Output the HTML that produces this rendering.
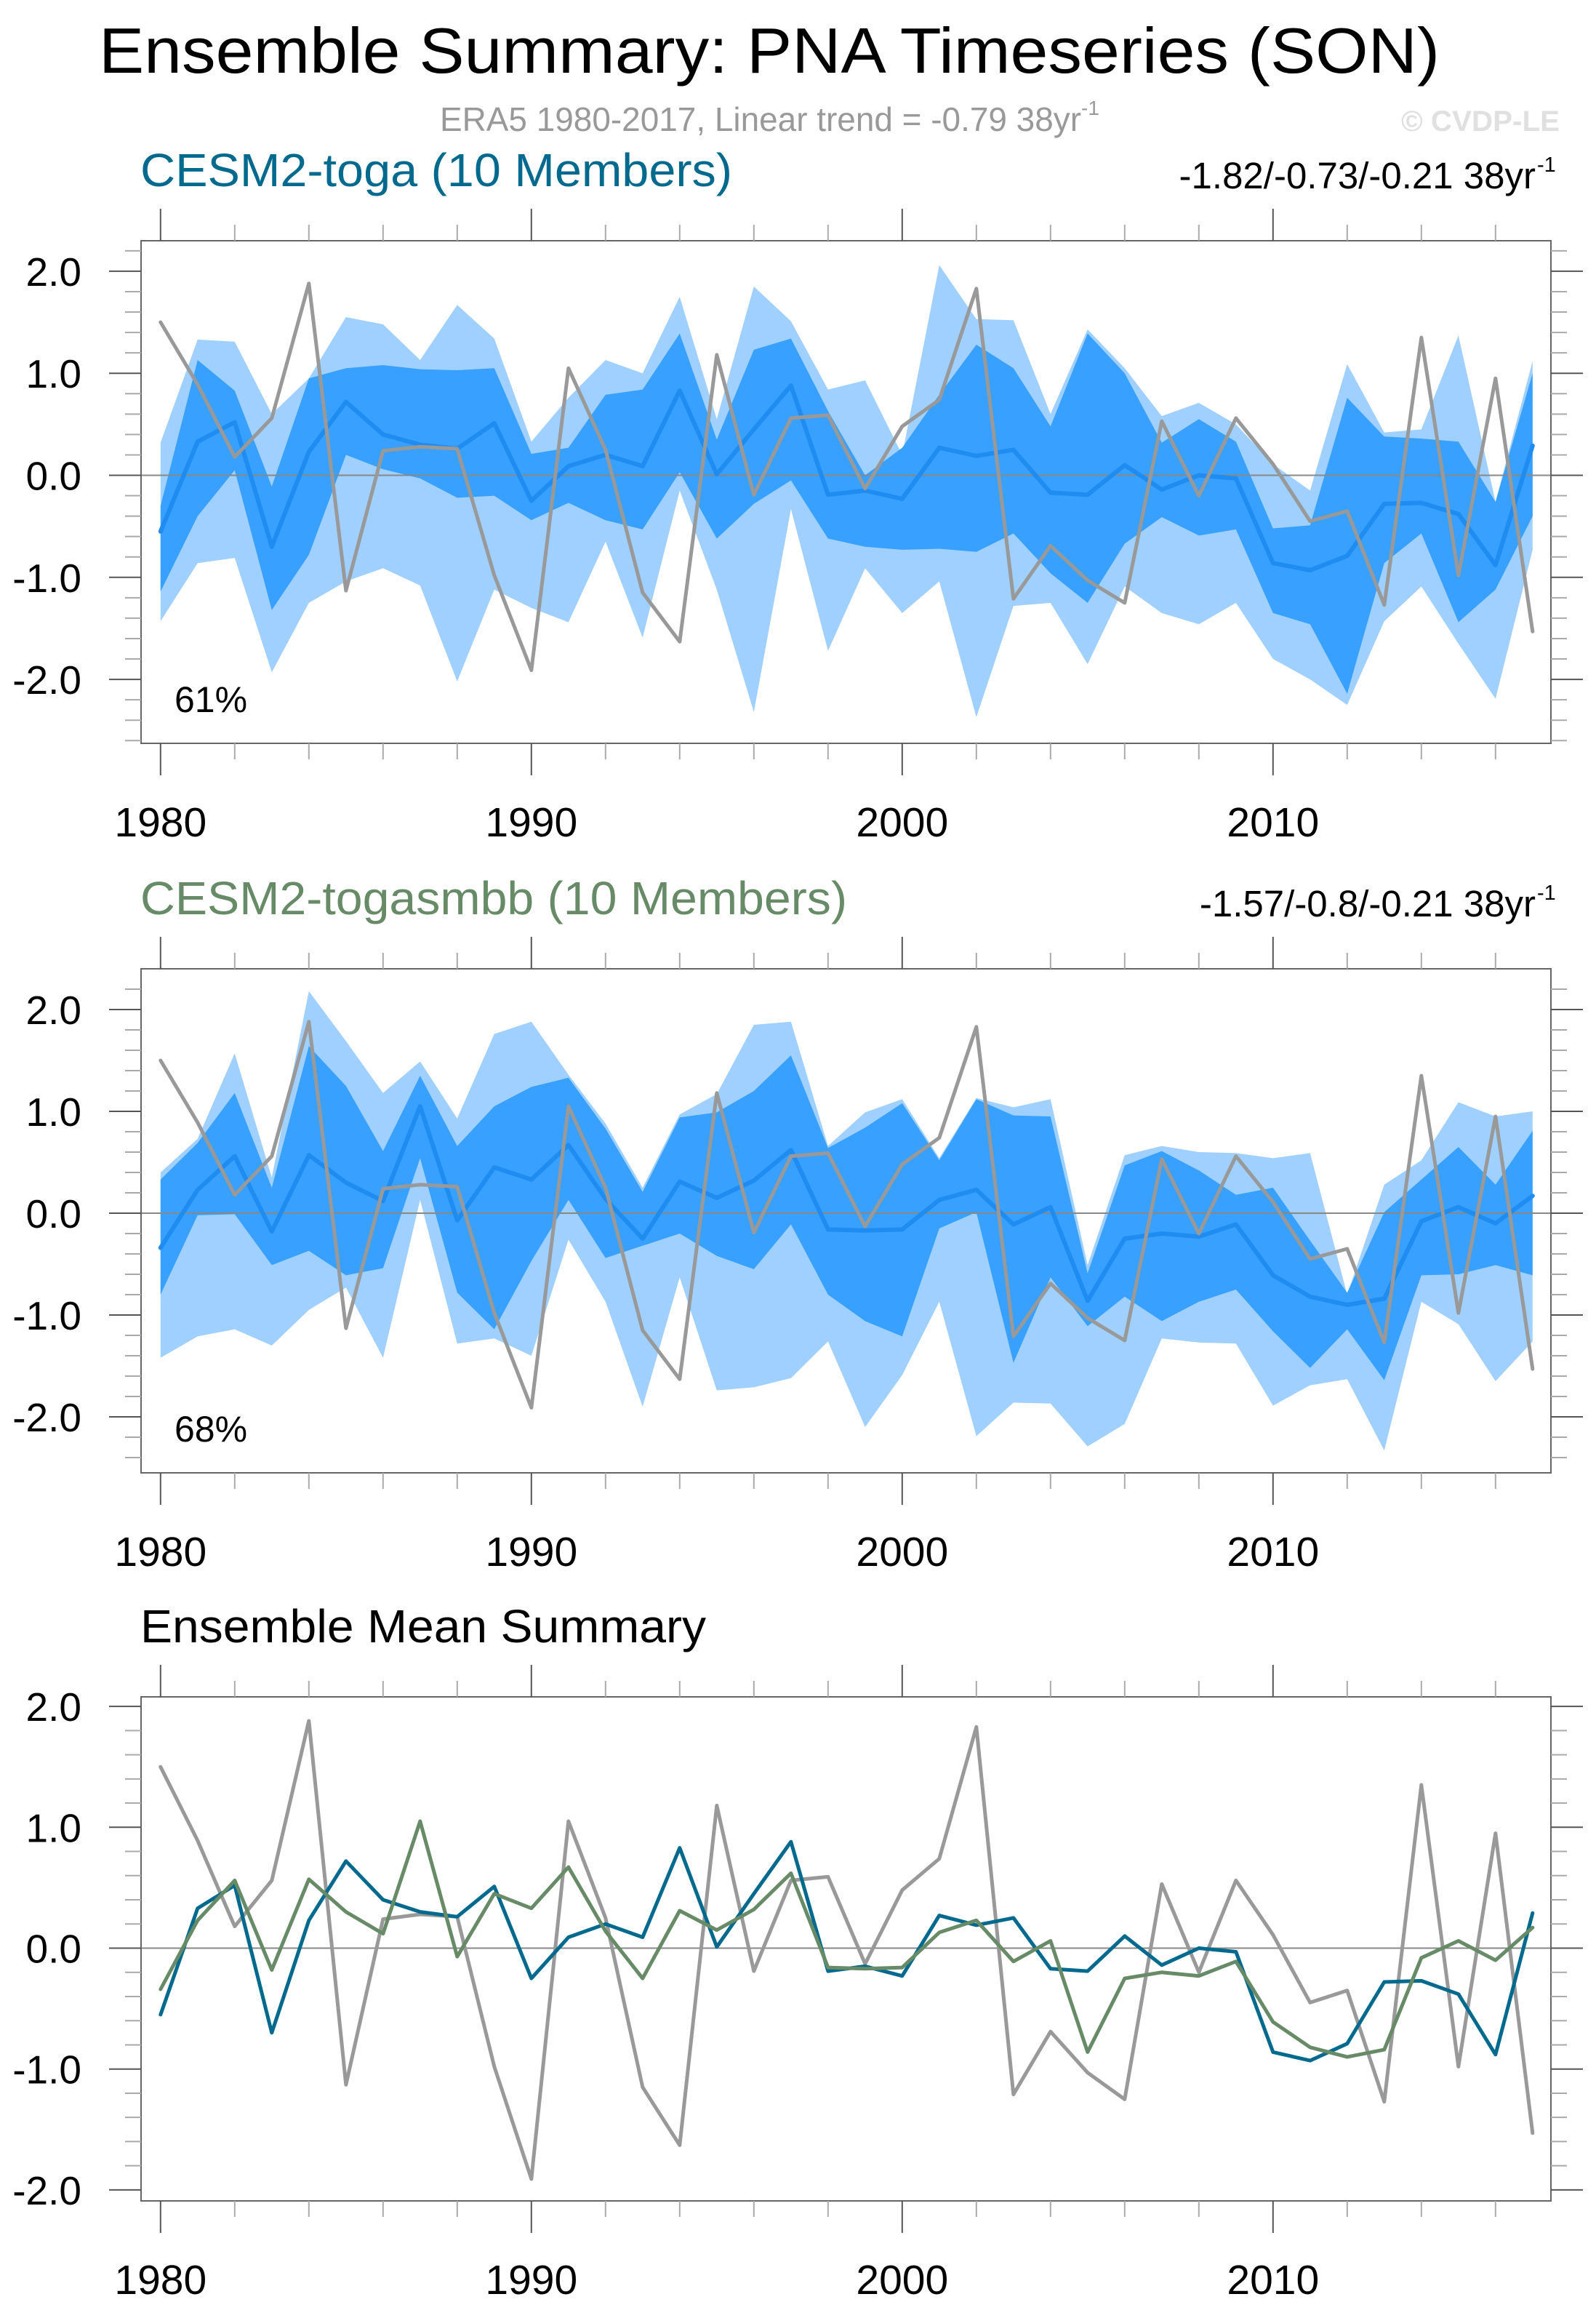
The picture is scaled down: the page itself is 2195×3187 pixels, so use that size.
<!DOCTYPE html>
<html><head><meta charset="utf-8"><title>Ensemble Summary: PNA Timeseries (SON)</title>
<style>
html,body{margin:0;padding:0;background:#fff;}
svg{display:block;font-family:"Liberation Sans",Arial,sans-serif;}
</style></head>
<body>
<svg id="chart" width="2195" height="3187" viewBox="0 0 2195 3187" xmlns="http://www.w3.org/2000/svg">
  <text x="136" y="100" font-size="88" textLength="1844" lengthAdjust="spacingAndGlyphs" fill="#000">Ensemble Summary: PNA Timeseries (SON)</text>
  <text x="605" y="180" font-size="46" fill="#999"><tspan textLength="882" lengthAdjust="spacingAndGlyphs">ERA5 1980-2017, Linear trend = -0.79 38yr</tspan><tspan font-size="28" dy="-22">-1</tspan></text>
  <text x="1927" y="180" font-size="40" font-weight="bold" fill="#e0e0e0" textLength="218" lengthAdjust="spacingAndGlyphs">© CVDP-LE</text>
  <g id="panels"></g>
</svg>
<script>
// ---- data ----
const years = [1980,1981,1982,1983,1984,1985,1986,1987,1988,1989,1990,1991,1992,1993,1994,1995,1996,1997,1998,1999,2000,2001,2002,2003,2004,2005,2006,2007,2008,2009,2010,2011,2012,2013,2014,2015,2016,2017];
const obsValues = [1.50,0.89,0.18,0.56,1.88,-1.13,0.24,0.28,0.26,-0.98,-1.91,1.05,0.25,-1.15,-1.63,1.18,-0.19,0.56,0.59,-0.13,0.48,0.74,1.83,-1.21,-0.69,-1.03,-1.25,0.53,-0.20,0.56,0.11,-0.45,-0.35,-1.27,1.35,-0.98,0.95,-1.53];
const togaMean = [-0.55,0.33,0.52,-0.70,0.23,0.72,0.40,0.30,0.26,0.51,-0.25,0.09,0.20,0.09,0.83,0.01,0.45,0.88,-0.19,-0.15,-0.23,0.27,0.19,0.25,-0.17,-0.19,0.10,-0.14,0.00,-0.03,-0.86,-0.93,-0.79,-0.28,-0.27,-0.38,-0.88,0.29];
const togaMax = [0.32,1.33,1.31,0.60,0.95,1.55,1.48,1.13,1.67,1.34,0.33,0.76,1.13,1.00,1.75,0.55,1.85,1.51,0.84,0.93,0.20,2.06,1.53,1.52,0.60,1.43,1.05,0.58,0.71,0.50,0.11,-0.15,1.09,0.42,0.45,1.37,-0.26,1.12];
const togaHi = [-0.30,1.13,0.83,-0.11,0.95,1.05,1.08,1.04,1.03,1.05,0.21,0.27,0.79,0.84,1.39,0.35,1.23,1.34,0.63,0.00,0.27,0.79,1.28,1.05,0.48,1.39,1.00,0.32,0.55,0.33,-0.52,-0.49,0.76,0.38,0.36,0.33,-0.26,1.00];
const togaLo = [-1.14,-0.40,0.05,-1.32,-0.78,0.20,0.06,-0.03,-0.22,-0.20,-0.44,-0.27,-0.44,-0.53,0.03,-0.62,-0.28,-0.05,-0.62,-0.70,-0.73,-0.72,-0.75,-0.57,-0.96,-1.25,-0.67,-0.41,-0.59,-0.53,-1.35,-1.46,-2.14,-0.86,-0.57,-1.44,-1.12,-0.40];
const togaMin = [-1.43,-0.86,-0.81,-1.93,-1.25,-1.04,-0.91,-1.08,-2.02,-1.12,-1.30,-1.44,-0.65,-1.59,-0.15,-1.12,-2.32,-0.33,-1.72,-0.91,-1.35,-1.04,-2.37,-1.28,-1.25,-1.85,-1.09,-1.35,-1.46,-1.25,-1.80,-2.00,-2.25,-1.43,-1.09,-1.65,-2.19,-0.73];
const smbbMean = [-0.34,0.23,0.56,-0.18,0.57,0.30,0.12,1.05,-0.07,0.45,0.33,0.67,0.14,-0.25,0.31,0.15,0.32,0.62,-0.16,-0.17,-0.16,0.13,0.23,-0.11,0.06,-0.86,-0.25,-0.20,-0.23,-0.11,-0.61,-0.82,-0.90,-0.84,-0.08,0.06,-0.10,0.17];
const smbbMax = [0.40,0.73,1.57,0.35,2.18,1.69,1.18,1.49,0.93,1.76,1.88,1.36,0.88,0.25,0.97,1.17,1.85,1.88,0.66,0.99,1.12,0.54,1.13,1.04,1.12,-0.51,0.57,0.66,0.60,0.59,0.54,0.59,-0.80,0.28,0.52,1.09,0.95,1.00];
const smbbHi = [0.33,0.69,1.18,0.25,1.64,1.25,0.61,1.35,0.66,1.05,1.24,1.33,0.83,0.21,0.94,0.99,1.20,1.55,0.64,0.84,1.08,0.52,1.12,0.96,0.95,-0.59,0.47,0.61,0.42,0.18,0.25,-0.27,-0.78,0.01,0.33,0.65,0.28,0.81];
const smbbLo = [-0.80,-0.02,-0.01,-0.51,-0.37,-0.61,-0.54,0.54,-0.78,-1.14,-0.47,0.13,-0.44,-0.32,-0.20,-0.42,-0.55,-0.11,-0.80,-1.06,-1.21,-0.15,0.01,-1.47,-0.63,-1.11,-0.82,-1.06,-0.87,-0.75,-1.16,-1.52,-1.14,-1.64,-0.61,-0.60,-0.51,-0.61];
const smbbMin = [-1.42,-1.21,-1.14,-1.30,-0.95,-0.73,-1.42,0.13,-1.28,-1.23,-1.40,-0.26,-0.87,-1.90,-0.63,-1.74,-1.71,-1.62,-1.26,-2.10,-1.59,-0.87,-2.19,-1.86,-1.87,-2.29,-2.07,-1.23,-1.27,-1.28,-1.89,-1.69,-1.63,-2.33,-0.87,-1.09,-1.65,-1.26];
const yTickLabels = ["2.0","1.0","0.0","-1.0","-2.0"];
const yTickValues = [2,1,0,-1,-2];
const xTickLabels = ["1980","1990","2000","2010"];

// ---- layout ----
const NS = "http://www.w3.org/2000/svg";
const root = document.getElementById("panels");
const BOX_L = 194, BOX_R = 2133, X0 = 220.8, DX = 51.0;
function xPos(yr){ return X0 + (yr - 1980) * DX; }
function mk(tag, attrs, parent){
  const e = document.createElementNS(NS, tag);
  for (const k in attrs) e.setAttribute(k, attrs[k]);
  (parent || root).appendChild(e);
  return e;
}
function linePts(vals, yPos){ return vals.map((v,i)=> xPos(years[i]).toFixed(1)+","+yPos(v).toFixed(1)).join(" "); }
function bandPts(up, lo, yPos){
  const a = up.map((v,i)=> xPos(years[i]).toFixed(1)+","+yPos(v).toFixed(1));
  const b = lo.map((v,i)=> xPos(years[i]).toFixed(1)+","+yPos(v).toFixed(1)).reverse();
  return a.concat(b).join(" ");
}

function panel(cfg){
  const g = mk("g", {});
  
  
  const top = cfg.top, bot = cfg.bot;
  const yPos = v => cfg.zeroY - v * cfg.unit;
  const t = mk("text", {x:193, y:top-75, "font-size":64, fill:cfg.titleColor, textLength:cfg.titleLen, lengthAdjust:"spacingAndGlyphs"}, g);
  t.textContent = cfg.title;
  
  
  if (cfg.trend){
    const tr = mk("text", {x:2112, y:top-72, "font-size":51, "text-anchor":"end", fill:"#000"}, g);
    tr.textContent = cfg.trend;
    
    
    const sp = mk("text", {x:2114, y:top-95, "font-size":29, fill:"#000"}, g);
    sp.textContent = "-1";
    
    
  }
  const cid = "clip" + cfg.id;
  const cp = mk("clipPath", {id:cid}, g);
  mk("rect", {x:BOX_L, y:top, width:BOX_R-BOX_L, height:bot-top}, cp);
  const plot = mk("g", {"clip-path":"url(#"+cid+")"}, g);
  if (cfg.max){
    const b1 = mk("polygon", {points:bandPts(cfg.max, cfg.min, yPos), fill:"#9fd0ff"}, plot);
    
    
    const b2 = mk("polygon", {points:bandPts(cfg.hi, cfg.lo, yPos), fill:"#38a0ff"}, plot);
    
    
  }
  const zl = mk("line", {x1:BOX_L, x2:BOX_R, y1:yPos(0), y2:yPos(0), stroke:"#888", "stroke-width":2}, plot);
  
  
  cfg.series.forEach(s=>{
    const p = mk("polyline", {points:linePts(s.vals, yPos), fill:"none", stroke:s.color, "stroke-width":s.w, "stroke-linejoin":"round", "stroke-linecap":"round"}, plot);
    
    
  });
  const fr = mk("rect", {x:BOX_L, y:top, width:BOX_R-BOX_L, height:bot-top, fill:"none", stroke:"#666", "stroke-width":2}, g);
  
  
  for (let yr=1980; yr<=2016; yr+=2){
    const major = (yr % 10 === 0);
    const len = major ? 44 : 22;
    const col = major ? "#555" : "#aaa";
    const x = xPos(yr);
    const a = mk("line", {x1:x, x2:x, y1:top-len, y2:top, stroke:col, "stroke-width":2}, g);
    
    
    const b = mk("line", {x1:x, x2:x, y1:bot, y2:bot+len, stroke:col, "stroke-width":2}, g);
    
    
  }
  xTickLabels.forEach(l=>{
    const tx = mk("text", {x:xPos(+l), y:bot+128, "font-size":57, "text-anchor":"middle", fill:"#000"}, g);
    tx.textContent = l;
    
    
  });
  for (let k=-30; k<=30; k+=2){
    const v = k/10, y = yPos(v);
    if (y < top+1 || y > bot-1) continue;
    const major = (k % 10 === 0);
    const len = major ? 44 : 22;
    const col = major ? "#555" : "#aaa";
    const a = mk("line", {x1:BOX_L-len, x2:BOX_L, y1:y, y2:y, stroke:col, "stroke-width":2}, g);
    
    
    const b = mk("line", {x1:BOX_R, x2:BOX_R+len, y1:y, y2:y, stroke:col, "stroke-width":2}, g);
    
    
  }
  yTickLabels.forEach((l,i)=>{
    const ty = mk("text", {x:112, y:yPos(yTickValues[i])+20, "font-size":55, "text-anchor":"end", fill:"#000"}, g);
    ty.textContent = l;
    
    
  });
  if (cfg.pct){
    const pc = mk("text", {x:240, y:bot-43, "font-size":50, fill:"#000"}, g);
    pc.textContent = cfg.pct;
    
    
  }
}

panel({id:1, name:"cesm2-toga-panel", top:331, bot:1022, zeroY:653.5, unit:140.3,
  title:"CESM2-toga (10 Members)", titleColor:"#006a8e", titleLen:814, trend:"-1.82/-0.73/-0.21 38yr", pct:"61%",
  max:togaMax, hi:togaHi, lo:togaLo, min:togaMin,
  series:[{vals:togaMean, color:"#1e8cf0", w:6, name:"toga-ensemble-mean-line"},{vals:obsValues, color:"#999", w:5, name:"era5-observed-line"}]});
panel({id:2, name:"cesm2-togasmbb-panel", top:1332, bot:2025, zeroY:1668, unit:140,
  title:"CESM2-togasmbb (10 Members)", titleColor:"#678a67", titleLen:972, trend:"-1.57/-0.8/-0.21 38yr", pct:"68%",
  max:smbbMax, hi:smbbHi, lo:smbbLo, min:smbbMin,
  series:[{vals:smbbMean, color:"#1e8cf0", w:6, name:"togasmbb-ensemble-mean-line"},{vals:obsValues, color:"#999", w:5, name:"era5-observed-line"}]});
panel({id:3, name:"ensemble-mean-summary-panel", top:2333, bot:3026, zeroY:2678.5, unit:166.2,
  title:"Ensemble Mean Summary", titleColor:"#000", titleLen:778,
  series:[{vals:obsValues, color:"#999", w:5, name:"era5-observed-line"},{vals:togaMean, color:"#006a8e", w:5, name:"toga-mean-line"},{vals:smbbMean, color:"#678a67", w:5, name:"togasmbb-mean-line"}]});
</script>
</body></html>
